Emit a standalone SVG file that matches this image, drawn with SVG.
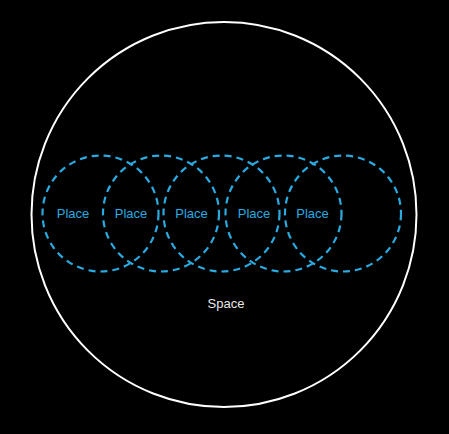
<svg xmlns="http://www.w3.org/2000/svg" width="449" height="434" viewBox="0 0 449 434">
<style>
.space{fill:none;stroke:#ffffff;stroke-width:2}
.place{fill:none;stroke:#29abe2;stroke-width:2.2;stroke-dasharray:7 5}
.pl{font-family:"Liberation Sans",Arial,sans-serif;font-size:13px;fill:#29abe2;text-anchor:middle}
.sp{font-family:"Liberation Sans",Arial,sans-serif;font-size:13px;fill:#e8e8e8;text-anchor:middle}
</style>
<rect width="449" height="434" fill="#000000"/>
<g id="space">
<circle class="space" cx="224" cy="214.5" r="192.5"/>
<text class="sp" x="226" y="308">Space</text>
</g>
<g id="place1"><circle class="place" cx="100.5" cy="213.5" r="58"/><text class="pl" x="73" y="218">Place</text></g>
<g id="place2"><circle class="place" cx="161" cy="213.5" r="58"/><text class="pl" x="131" y="218">Place</text></g>
<g id="place3"><circle class="place" cx="221.5" cy="213.5" r="58"/><text class="pl" x="191.5" y="218">Place</text></g>
<g id="place4"><circle class="place" cx="283.5" cy="213.5" r="58"/><text class="pl" x="254" y="218">Place</text></g>
<g id="place5"><circle class="place" cx="343" cy="213.5" r="58"/><text class="pl" x="312.5" y="218">Place</text></g>
<g id="connectors"></g>
</svg>
